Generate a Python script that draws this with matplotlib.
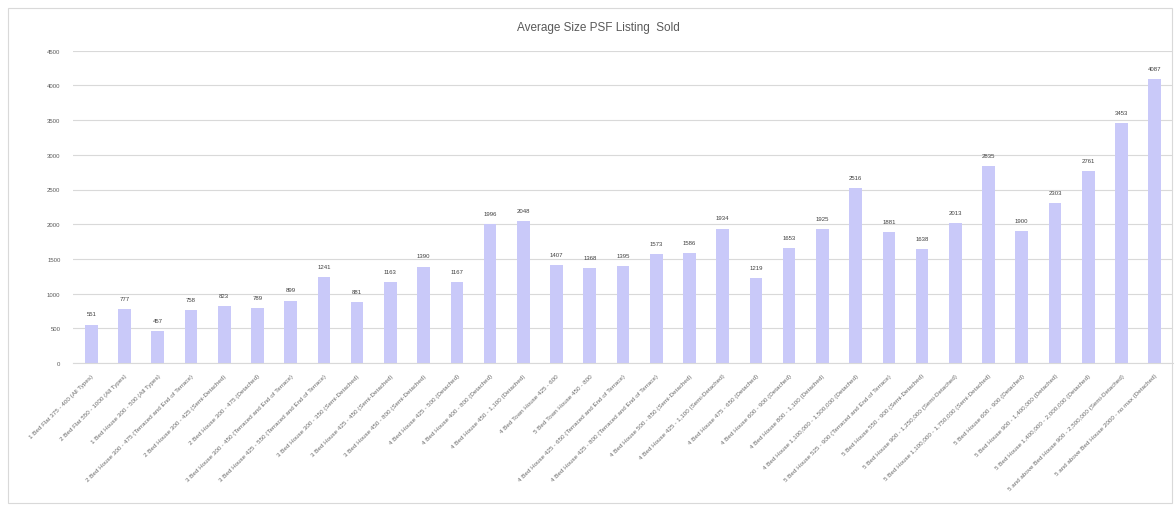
import matplotlib
matplotlib.use("Agg")
import matplotlib.pyplot as plt
from matplotlib.patches import Rectangle

title = "Average Size PSF Listing  Sold"
categories = [
    "1 Bed Flat 375 - 400 (All Types)",
    "2 Bed Flat 550 - 1000 (All Types)",
    "1 Bed House 300 - 500 (All Types)",
    "2 Bed House 300 - 475 (Terraced and End of Terrace)",
    "2 Bed House 300 - 425 (Semi-Detached)",
    "2 Bed House 300 - 475 (Detached)",
    "3 Bed House 300 - 450 (Terraced and End of Terrace)",
    "3 Bed House 425 - 550 (Terraced and End of Terrace)",
    "3 Bed House 300 - 350 (Semi-Detached)",
    "3 Bed House 425 - 450 (Semi-Detached)",
    "3 Bed House 450 - 800 (Semi-Detached)",
    "4 Bed House 425 - 500 (Detached)",
    "4 Bed House 400 - 800 (Detached)",
    "4 Bed House 450 - 1,100 (Detached)",
    "4 Bed Town House 425 - 600",
    "5 Bed Town House 450 - 800",
    "4 Bed House 425 - 650 (Terraced and End of Terrace)",
    "4 Bed House 425 - 800 (Terraced and End of Terrace)",
    "4 Bed House 500 - 850 (Semi-Detached)",
    "4 Bed House 425 - 1,100 (Semi-Detached)",
    "4 Bed House 475 - 650 (Detached)",
    "4 Bed House 600 - 900 (Detached)",
    "4 Bed House 800 - 1,100 (Detached)",
    "4 Bed House 1,100,000 - 1,500,000 (Detached)",
    "5 Bed House 525 - 900 (Terraced and End of Terrace)",
    "5 Bed House 550 - 900 (Semi-Detached)",
    "5 Bed House 900 - 1,250,000 (Semi-Detached)",
    "5 Bed House 1,100,000 - 1,750,000 (Semi-Detached)",
    "5 Bed House 600 - 900 (Detached)",
    "5 Bed House 900 - 1,400,000 (Detached)",
    "5 Bed House 1,400,000 - 2,000,000 (Detached)",
    "5 and above Bed House 900 - 2,500,000 (Semi-Detached)",
    "5 and above Bed House 2000 - no max (Detached)",
]
values = [551, 777, 457, 758, 823, 789, 899, 1241, 881, 1163, 1390, 1167,
          1996, 2048, 1407, 1368, 1395, 1573, 1586, 1934, 1219, 1653, 1925,
          2516, 1881, 1638, 2013, 2835, 1900, 2303, 2761, 3453, 4087]
yticks = [0, 500, 1000, 1500, 2000, 2500, 3000, 3500, 4000, 4500]

plt.rcParams['font.family'] = ['Liberation Sans', 'DejaVu Sans']

W, H = 1176, 506
fig = plt.figure(figsize=(W / 100, H / 100), dpi=100)
fig.patch.set_facecolor("white")

# outer chart border
fig.patches.append(Rectangle((8 / W, 2 / H), (W - 12) / W, (H - 11) / H,
                             transform=fig.transFigure, fill=False,
                             edgecolor="#D9D9D9", linewidth=0.8))

left, right = 73, 1173
top, bottom = 51.7, 364
ax = fig.add_axes([left / W, 1 - bottom / H, (right - left) / W, (bottom - top) / H])

x = list(range(len(values)))
ax.bar(x, values, width=0.38, color="#C9C9F9", zorder=2)
for xi, v in zip(x, values):
    ax.annotate(str(v), (xi, v), xytext=(0, 6), textcoords="offset points",
                ha="center", va="bottom", fontsize=4.3, color="#404040")

ax.set_xlim(-0.55, len(values) - 0.45)
ax.set_ylim(0, 4500)
ax.set_yticks(yticks)
ax.set_yticklabels([str(t) for t in yticks], fontsize=4.3, color="#595959")
ax.yaxis.grid(True, color="#D9D9D9", linewidth=0.8, zorder=0)
ax.set_xticks(x)
ax.set_xticklabels(categories, rotation=45, ha="right", rotation_mode="anchor",
                   fontsize=4.5, color="#6A6A6A")
ax.tick_params(axis="x", length=0, pad=7)
ax.tick_params(axis="y", length=0, pad=9)
for s in ["top", "right", "left"]:
    ax.spines[s].set_visible(False)
ax.spines["bottom"].set_color("#D9D9D9")
ax.spines["bottom"].set_linewidth(0.8)

fig.text(598 / W, 1 - 28 / H, title, ha="center", va="center",
         fontsize=8.5, color="#595959")

fig.savefig("out.png", dpi=100, facecolor="white")
